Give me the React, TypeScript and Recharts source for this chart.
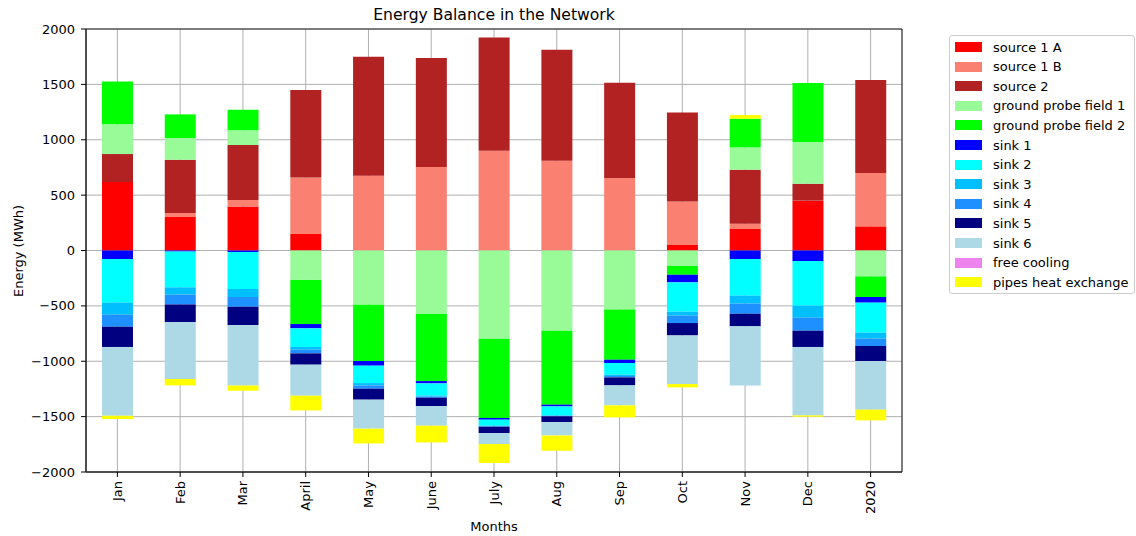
import { BarChart, Bar, XAxis, YAxis, CartesianGrid, ReferenceArea } from 'recharts'

const months = ['Jan', 'Feb', 'Mar', 'April', 'May', 'June', 'July', 'Aug', 'Sep', 'Oct', 'Nov', 'Dec', '2020']

// MWh per month
const source1A = [618, 302, 398, 149, 0, 0, 0, 0, 0, 50, 194, 450, 218]
const source1B = [0, 37, 58, 511, 675, 754, 901, 811, 654, 393, 48, 0, 482]
const source2 = [253, 481, 497, 789, 1075, 984, 1023, 1002, 861, 804, 488, 153, 839]
const groundProbe1 = [268, 196, 132, -266, -489, -574, -796, -724, -532, -140, 201, 377, -234]
const groundProbe2 = [388, 213, 186, -398, -509, -605, -716, -668, -454, -79, 259, 532, -186]
const sink1 = [-77, -10, -13, -39, -42, -21, -16, -16, -30, -69, -77, -95, -51]
const sink2 = [-394, -323, -335, -168, -157, -111, -54, -81, -105, -265, -331, -403, -271]
const sink3 = [-109, -66, -72, -25, -21, -9, -5, -4, -12, -36, -72, -109, -54]
const sink4 = [-108, -88, -87, -33, -30, -9, -4, -4, -13, -66, -91, -117, -66]
const sink5 = [-183, -159, -166, -102, -99, -75, -57, -52, -72, -112, -114, -147, -136]
const sink6 = [-621, -514, -545, -280, -262, -178, -99, -121, -180, -439, -533, -618, -439]
const freeCooling = [0, 0, 0, 0, 0, 0, 0, 0, 0, 0, 0, 0, 0]
const pipesHeatExchange = [-30, -58, -48, -133, -133, -151, -172, -138, -109, -30, 33, -12, -97]

const yTicks = [-2000, -1500, -1000, -500, 0, 500, 1000, 1500, 2000]

const series = [
  { key: 'source 1 A', values: source1A, color: '#ff0000' },
  { key: 'source 1 B', values: source1B, color: '#fa8072' },
  { key: 'source 2', values: source2, color: '#b22222' },
  { key: 'ground probe field 1', values: groundProbe1, color: '#98fb98' },
  { key: 'ground probe field 2', values: groundProbe2, color: '#00ff00' },
  { key: 'sink 1', values: sink1, color: '#0000ff' },
  { key: 'sink 2', values: sink2, color: '#00ffff' },
  { key: 'sink 3', values: sink3, color: '#00bfff' },
  { key: 'sink 4', values: sink4, color: '#1e90ff' },
  { key: 'sink 5', values: sink5, color: '#000080' },
  { key: 'sink 6', values: sink6, color: '#add8e6' },
  { key: 'free cooling', values: freeCooling, color: '#ee82ee' },
  { key: 'pipes heat exchange', values: pipesHeatExchange, color: '#ffff00' },
]

const data = months.map((month, i) => {
  const row: { [key: string]: any } = { month }
  series.forEach((s) => {
    row[s.key] = s.values[i]
  })
  return row
})

const MonthTick = ({ x, y, payload }: any) => (
  <text
    x={x}
    y={y}
    transform={`rotate(-90 ${x} ${y})`}
    textAnchor="end"
    dy="0.35em"
    fontSize={13}
    fill="#000"
  >
    {payload.value}
  </text>
)

const formatTick = (v: number) => String(v).replace('-', '\u2212')

export default function App() {
  return (
    <div
      style={{
        position: 'relative',
        width: 1136,
        height: 536,
        overflow: 'hidden',
        fontFamily: 'DejaVu Sans',
        color: '#000',
        background: '#fff',
      }}
    >
      <style>{'body { margin: 0; }'}</style>
      <div style={{ position: 'absolute', left: 0, width: 988, top: 8, textAlign: 'center', fontSize: 15.6, lineHeight: '15.6px' }}>
        Energy Balance in the Network
      </div>

      <BarChart
        width={1136}
        height={536}
        data={data}
        stackOffset="sign"
        margin={{ top: 29, right: 234, bottom: 14, left: 0 }}
        barSize={31}
      >
        <CartesianGrid stroke="#b0b0b0" strokeWidth={1} />
        <XAxis
          dataKey="month"
          height={50}
          interval={0}
          tick={<MonthTick />}
          tickSize={5}
          tickMargin={4}
          tickLine={{ stroke: '#000' }}
          axisLine={{ stroke: '#222' }}
        />
        <YAxis
          type="number"
          domain={[-2000, 2000]}
          ticks={yTicks}
          width={86}
          tickSize={5}
          tickMargin={6}
          tickFormatter={formatTick}
          tick={{ fontSize: 13, fill: '#000' }}
          tickLine={{ stroke: '#000' }}
          axisLine={{ stroke: '#222' }}
        />
        {series.map((s) => (
          <Bar key={s.key} dataKey={s.key} stackId="a" fill={s.color} isAnimationActive={false} />
        ))}
        <ReferenceArea y1={-2000} y2={2000} fill="none" fillOpacity={0} stroke="#222" strokeWidth={1} />
      </BarChart>

      <div style={{ position: 'absolute', left: 494, top: 519, transform: 'translateX(-50%)', fontSize: 13, lineHeight: '15px', whiteSpace: 'nowrap' }}>
        Months
      </div>
      <div
        style={{
          position: 'absolute',
          left: 18,
          top: 251,
          transform: 'translate(-50%, -50%) rotate(-90deg)',
          fontSize: 13,
          whiteSpace: 'nowrap',
        }}
      >
        Energy (MWh)
      </div>

      <div
        style={{
          position: 'absolute',
          left: 949,
          top: 35,
          width: 186,
          height: 259,
          border: '1px solid #cccccc',
          borderRadius: 3,
          background: '#fff',
          boxSizing: 'border-box',
        }}
      >
        {series.map((s, i) => (
          <div
            key={s.key}
            style={{
              position: 'absolute',
              left: 5,
              top: 1 + i * 19.6,
              height: 20,
              display: 'flex',
              alignItems: 'center',
              fontSize: 13,
              whiteSpace: 'nowrap',
            }}
          >
            <span style={{ display: 'inline-block', width: 27, height: 10, background: s.color, marginRight: 11 }} />
            {s.key}
          </div>
        ))}
      </div>
    </div>
  )
}
